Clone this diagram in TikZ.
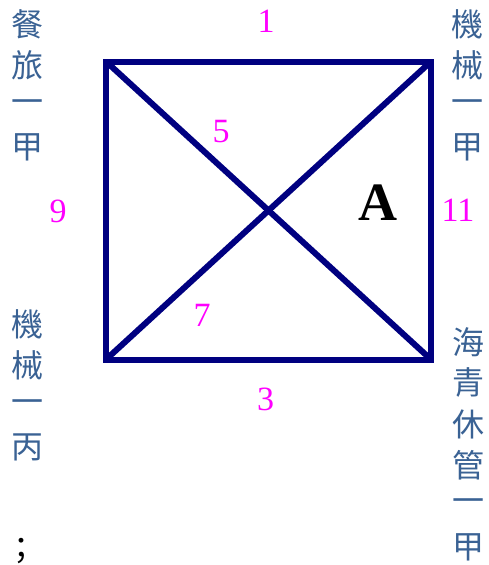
\documentclass[tikz,border=0pt]{standalone}
\usepackage{fontspec}
\setmainfont{Liberation Serif}
\newfontfamily\cjkfont{Noto Sans CJK TC}
\definecolor{edgeblue}{HTML}{000080}
\definecolor{numpink}{HTML}{FF00FF}
\definecolor{cjkblue}{HTML}{3A6294}
\begin{document}
\begin{tikzpicture}[x=1pt,y=-1pt,
  edge/.style={draw=edgeblue,line width=6pt,line join=miter},
  num/.style={inner sep=0pt,text=numpink,font=\fontsize{34}{34}\selectfont},
  cjk/.style={inner sep=0pt,text=cjkblue,font=\cjkfont\fontsize{32}{32}\selectfont},
  biglabel/.style={inner sep=0pt,font=\bfseries\fontsize{54}{54}\selectfont}]
\useasboundingbox (0,0) rectangle (488,565);
\coordinate (tl) at (106,61.5);
\coordinate (tr) at (431,61.5);
\coordinate (br) at (431,359.5);
\coordinate (bl) at (106,359.5);
\draw[edge] (tl) -- (tr) -- (br) -- (bl) -- cycle;
\draw[edge] (tl) -- (br);
\draw[edge] (bl) -- (tr);
\node[num] (n1) at (266,21.5) {1};
\node[num] (n5) at (221,131.5) {5};
\node[num] (n9) at (58,211) {9};
\node[num] (n11) at (458,210.5) {11};
\node[num] (n7) at (202,315) {7};
\node[num] (n3) at (265.5,399) {3};
\node[biglabel] (A) at (378,203) {A};
\foreach \c [count=\i] in {餐,旅,一,甲}
  \node[cjk] (tlc\i) at (28,{24.5+41*(\i-1)}) {\c};
\foreach \c [count=\i] in {機,械,一,甲}
  \node[cjk] (trc\i) at (467.5,{24.5+41*(\i-1)}) {\c};
\foreach \c [count=\i] in {機,械,一,丙}
  \node[cjk] (blc\i) at (28,{324.5+41*(\i-1)}) {\c};
\foreach \c [count=\i] in {海,青,休,管,一,甲}
  \node[cjk] (brc\i) at (468,{342+41*(\i-1)}) {\c};
\node[inner sep=0pt,font=\cjkfont\fontsize{32}{32}\selectfont] (semi) at (21.5,551) {；};
\end{tikzpicture}
\end{document}
